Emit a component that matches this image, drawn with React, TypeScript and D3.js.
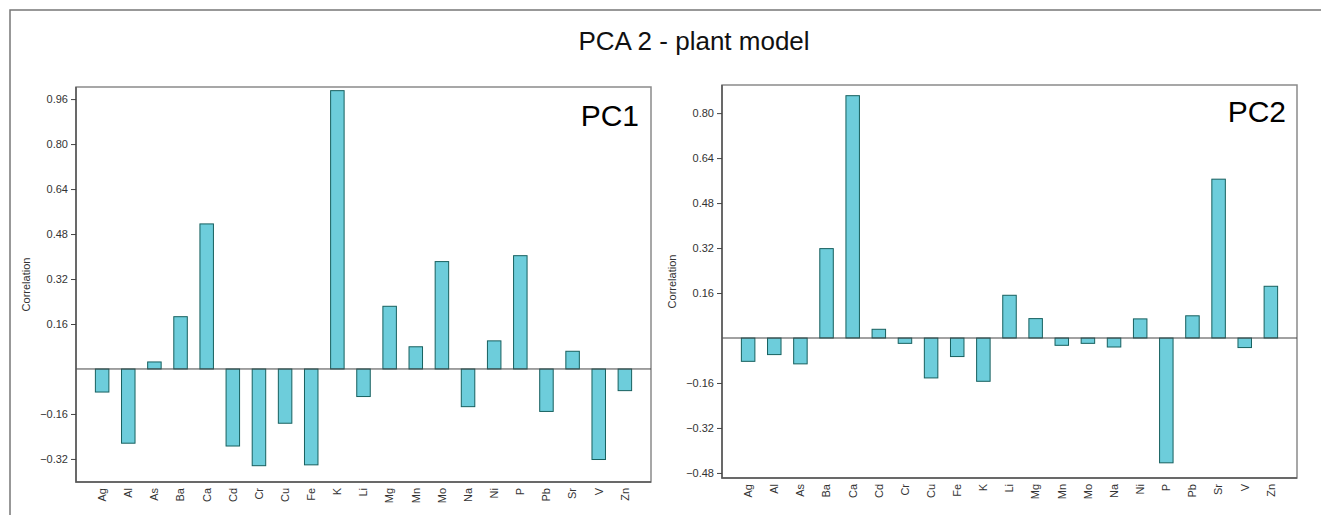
import React, { useEffect, useRef } from "react";
import * as d3 from "d3";

const elements = [
  "Ag", "Al", "As", "Ba", "Ca", "Cd", "Cr", "Cu", "Fe", "K", "Li",
  "Mg", "Mn", "Mo", "Na", "Ni", "P", "Pb", "Sr", "V", "Zn",
];

const pc1 = [
  -0.082, -0.264, 0.025, 0.186, 0.516, -0.274, -0.344, -0.193, -0.341, 0.99, -0.098,
  0.223, 0.079, 0.382, -0.134, 0.1, 0.403, -0.151, 0.063, -0.322, -0.077,
];

const pc2 = [
  -0.083, -0.059, -0.092, 0.318, 0.862, 0.031, -0.019, -0.142, -0.066, -0.154, 0.152,
  0.069, -0.026, -0.019, -0.032, 0.068, -0.444, 0.079, 0.565, -0.034, 0.184,
];

const pc1Ticks = [-0.32, -0.16, 0.16, 0.32, 0.48, 0.64, 0.8, 0.96];
const pc2Ticks = [-0.48, -0.32, -0.16, 0.16, 0.32, 0.48, 0.64, 0.8];

const W = 1321;
const H = 515;

type Panel = {
  name: string;
  values: number[];
  ticks: number[];
  domain: [number, number];
  left: number;
  right: number;
  top: number;
  bottom: number;
  labelX: number;
  labelY: number;
};

const panels: Panel[] = [
  { name: "PC1", values: pc1, ticks: pc1Ticks, domain: [-0.402, 1.003],
    left: 76, right: 651, top: 87, bottom: 482, labelX: 639, labelY: 126 },
  { name: "PC2", values: pc2, ticks: pc2Ticks, domain: [-0.498, 0.9],
    left: 722, right: 1297, top: 85, bottom: 478, labelX: 1286, labelY: 122 },
];

const font = "'Liberation Sans', Arial, sans-serif";

const drawPanel = (svg: d3.Selection<SVGSVGElement, unknown, null, undefined>, p: Panel) => {
  const x = d3.scalePoint<string>().domain(elements).range([p.left, p.right]).padding(1);
  const y = d3.scaleLinear().domain(p.domain).range([p.bottom, p.top]);
  const barW = 13.5;

  const g = svg.append("g");

  // frame: light top/right, darker axis sides
  g.append("rect")
    .attr("x", p.left).attr("y", p.top)
    .attr("width", p.right - p.left).attr("height", p.bottom - p.top)
    .attr("fill", "#fff").attr("stroke", "#8a8a8a").attr("stroke-width", 1.5);

  g.selectAll("rect.bar")
    .data(p.values)
    .join("rect")
    .attr("class", "bar")
    .attr("x", (_, i) => x(elements[i])! - barW / 2)
    .attr("y", (d) => y(Math.max(0, d)))
    .attr("width", barW)
    .attr("height", (d) => Math.abs(y(d) - y(0)))
    .attr("fill", "#6dcddb")
    .attr("stroke", "#17605f")
    .attr("stroke-width", 1);

  // zero line
  g.append("line")
    .attr("x1", p.left).attr("x2", p.right)
    .attr("y1", y(0)).attr("y2", y(0))
    .attr("stroke", "#444").attr("stroke-width", 1);

  // left and bottom axis lines
  g.append("path")
    .attr("d", `M${p.left},${p.top}V${p.bottom}H${p.right}`)
    .attr("fill", "none").attr("stroke", "#555").attr("stroke-width", 1.5);

  const yAxis = d3.axisLeft(y)
    .tickValues(p.ticks)
    .tickSize(5)
    .tickPadding(3)
    .tickFormat(d3.format(".2f"));
  const ya = g.append("g").attr("transform", `translate(${p.left},0)`).call(yAxis);
  ya.select(".domain").remove();
  ya.selectAll("line").attr("stroke", "#444");
  ya.selectAll("text").attr("font-family", font).attr("font-size", 11).attr("fill", "#333");

  g.selectAll("text.xl")
    .data(elements)
    .join("text")
    .attr("class", "xl")
    .attr("transform", (d) => `translate(${x(d)},${p.bottom + 6}) rotate(-90)`)
    .attr("dy", "0.35em")
    .attr("text-anchor", "end")
    .attr("font-family", font)
    .attr("font-size", 11)
    .attr("fill", "#333")
    .text((d) => d);

  g.append("text")
    .attr("transform", `translate(${p.left - 46},${(p.top + p.bottom) / 2}) rotate(-90)`)
    .attr("text-anchor", "middle")
    .attr("font-family", font)
    .attr("font-size", 11)
    .attr("fill", "#333")
    .text("Correlation");

  g.append("text")
    .attr("x", p.labelX).attr("y", p.labelY)
    .attr("text-anchor", "end")
    .attr("font-family", font)
    .attr("font-size", 30)
    .attr("fill", "#000")
    .text(p.name);
};

const App = () => {
  const ref = useRef<SVGSVGElement>(null);

  useEffect(() => {
    if (!ref.current) return;
    const svg = d3.select(ref.current);
    svg.selectAll("*").remove();

    svg.append("rect").attr("width", W).attr("height", H).attr("fill", "#fff");
    svg.append("rect")
      .attr("x", 10).attr("y", 10)
      .attr("width", W + 20).attr("height", H + 20)
      .attr("fill", "none").attr("stroke", "#777").attr("stroke-width", 1.5);

    svg.append("text")
      .attr("x", 694).attr("y", 50)
      .attr("text-anchor", "middle")
      .attr("font-family", font)
      .attr("font-size", 26)
      .attr("fill", "#111")
      .text("PCA 2 - plant model");

    panels.forEach((p) => drawPanel(svg, p));
  }, []);

  return (
    <div style={{ position: "absolute", left: 0, top: 0 }}>
      <svg ref={ref} width={W} height={H} style={{ display: "block" }} />
    </div>
  );
};

export default App;
